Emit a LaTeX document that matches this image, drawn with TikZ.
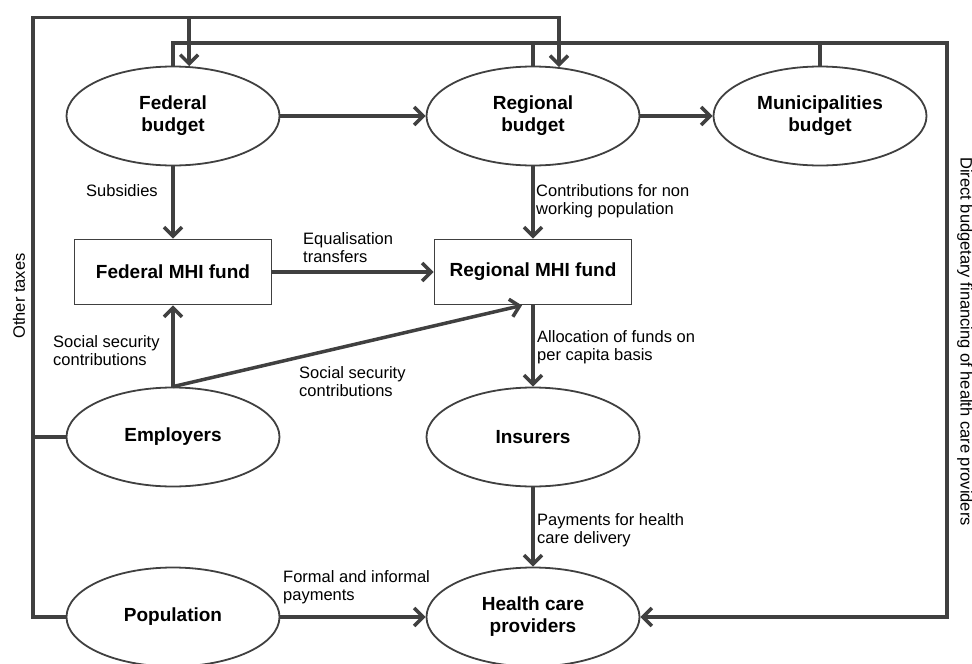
\documentclass[tikz,border=0pt]{standalone}
\usepackage{fontspec}
\setmainfont{Liberation Sans}
\usetikzlibrary{arrows.meta,shapes.geometric}
\definecolor{linegray}{HTML}{404040}

\begin{document}
\begin{tikzpicture}[x=1pt,y=1pt]
	\tikzstyle{every node}+=[inner sep=0pt]
	\tikzstyle{actor}=[draw=linegray,line width=1.8pt,ellipse,minimum width=213pt,minimum height=99pt,align=center,font=\fontsize{19}{22}\selectfont\bfseries]
	\tikzstyle{fund}=[draw=linegray,line width=1.8pt,rectangle,minimum width=197pt,minimum height=65pt,font=\fontsize{19}{22}\selectfont\bfseries]
	\tikzstyle{flow}=[draw=linegray,line width=3.5pt,-{Straight Barb[length=9pt,width=18pt]}]
	\tikzstyle{link}=[draw=linegray,line width=3.5pt]
	\tikzstyle{lbl}=[align=left,anchor=west,font=\fontsize{16.5}{18}\selectfont]
	\useasboundingbox (0,0) rectangle (972,-664);
	\draw (173,-116) node [actor] (fbud) {Federal\\budget};
	\draw (533,-116) node [actor] (rbud) {Regional\\budget};
	\draw (820,-116) node [actor] (mbud) {Municipalities\\budget};
	\draw (173,-272) node [fund] (ffund) {Federal MHI fund};
	\draw (533,-272) node [fund] (rfund) {Regional MHI fund};
	\draw (173,-437) node [actor] (emp) {Employers};
	\draw (533,-437) node [actor] (ins) {Insurers};
	\draw (173,-617) node [actor] (pop) {Population};
	\draw (533,-617) node [actor] (hcp) {Health care\\providers};
	\coordinate (otl) at (33,-17.5);
	\coordinate (dtr) at (947,-43);
	\draw [flow] (fbud) -- (rbud);
	\draw [flow] (rbud) -- (mbud);
	\draw [flow] (fbud) -- (ffund);
	\draw (86,-191) node [lbl] (lsub) {Subsidies};
	\draw [flow] (rbud) -- (rfund);
	\draw (536,-201) node [lbl] (lcon) {Contributions for non\\working population};
	\draw [flow] (ffund) -- (rfund);
	\draw (303,-248) node [lbl] (lequ) {Equalisation\\transfers};
	\draw [flow] (emp.north) -- (ffund.south);
	\draw (53,-351) node [lbl] (lsse) {Social security\\contributions};
	\draw [flow] (emp.north) -- ([xshift=-11pt]rfund.south);
	\draw (299,-382) node [lbl] (lssr) {Social security\\contributions};
	\draw [flow] (rfund) -- (ins);
	\draw (537,-347) node [lbl] (lall) {Allocation of funds on\\per capita basis};
	\draw [flow] (ins) -- (hcp);
	\draw (537,-530) node [lbl] (lpay) {Payments for health\\care delivery};
	\draw [flow] (pop) -- (hcp);
	\draw (283,-587) node [lbl] (lfor) {Formal and informal\\payments};
	\draw [flow] (pop.west) -| (otl) -| (rbud.62);
	\draw [flow] (fbud.72 |- otl) -- (fbud.72);
	\draw [link] (emp.west) -- (emp.west -| otl);
	\draw (19,-296) node [font=\fontsize{16.5}{18}\selectfont,rotate=90] (ltax) {Other taxes};
	\draw [flow] (fbud.north) |- (dtr) |- (hcp.east);
	\draw [link] (rbud.north) -- (rbud.north |- dtr);
	\draw [link] (mbud.north) -- (mbud.north |- dtr);
	\draw (965,-157) node [font=\fontsize{16.5}{18}\selectfont,rotate=-90,anchor=west] (ldir) {Direct budgetary financing of health care providers};
\end{tikzpicture}
\end{document}
